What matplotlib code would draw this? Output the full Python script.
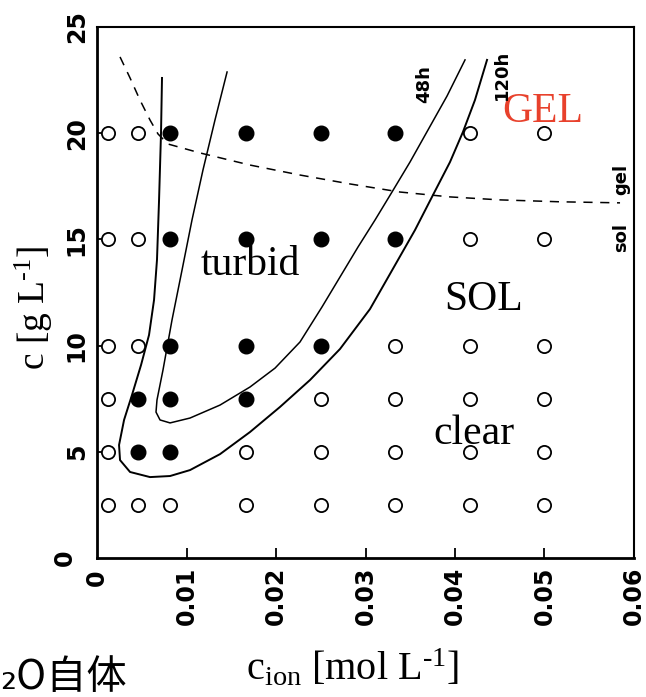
import numpy as np
import matplotlib
matplotlib.use('Agg')
import matplotlib.pyplot as plt

plt.rcParams['mathtext.fontset'] = 'custom'
plt.rcParams['mathtext.rm'] = 'Liberation Serif'
plt.rcParams['mathtext.it'] = 'Liberation Serif:italic'

# sample grid: ion concentration (mol/L) and polymer concentration (g/L)
c_ion = [0.0012, 0.0046, 0.0082, 0.0167, 0.025, 0.0333, 0.0417, 0.05]
c_poly = [20, 15, 10, 7.5, 5, 2.5]

# 1 = turbid (filled), 0 = clear (open), one row per c_poly value
turbid = [
    [0, 0, 1, 1, 1, 1, 0, 0],
    [0, 0, 1, 1, 1, 1, 0, 0],
    [0, 0, 1, 1, 1, 0, 0, 0],
    [0, 1, 1, 1, 0, 0, 0, 0],
    [0, 1, 1, 0, 0, 0, 0, 0],
    [0, 0, 0, 0, 0, 0, 0, 0],
]

# turbidity boundary after 120 h
b120_x = [0.00726, 0.00715, 0.00693, 0.00670, 0.00637, 0.00581, 0.00492, 0.00391,
          0.00302, 0.00246, 0.00257, 0.00369, 0.00592, 0.00816, 0.01039, 0.01374,
          0.01709, 0.02044, 0.02380, 0.02715, 0.03050, 0.03330, 0.03553, 0.03754,
          0.03944, 0.04089, 0.04223, 0.04358]
b120_y = [22.60, 20.01, 16.85, 14.04, 12.15, 10.50, 9.09, 7.68,
          6.50, 5.32, 4.61, 4.05, 3.81, 3.86, 4.14, 4.89,
          5.93, 7.11, 8.38, 9.84, 11.72, 13.79, 15.44, 17.09,
          18.64, 20.06, 21.56, 23.45]

# turbidity boundary after 48 h
b48_x = [0.01453, 0.01318, 0.01184, 0.01061, 0.00950, 0.00838, 0.00737, 0.00670,
         0.00659, 0.00704, 0.00816, 0.01039, 0.01374, 0.01709, 0.01989, 0.02268,
         0.02514, 0.02715, 0.02916, 0.03106, 0.03296, 0.03497, 0.03698, 0.03911,
         0.04112]
b48_y = [22.88, 20.62, 18.27, 15.91, 13.56, 11.21, 8.85, 7.44,
         6.87, 6.50, 6.36, 6.59, 7.20, 8.05, 8.94, 10.17,
         11.82, 13.23, 14.64, 15.91, 17.23, 18.64, 20.15, 21.75,
         23.45]

# sol / gel boundary
gel_x = [0.00257, 0.00369, 0.00480, 0.00592, 0.00682, 0.00793, 0.01151, 0.01709,
         0.02268, 0.02827, 0.03385, 0.03944, 0.04503, 0.05173, 0.05844]
gel_y = [23.59, 22.60, 21.56, 20.62, 19.96, 19.49, 19.07, 18.50,
         18.03, 17.61, 17.23, 17.00, 16.86, 16.77, 16.72]

xticks = [0.01, 0.02, 0.03, 0.04, 0.05, 0.06]
xtick_labels = ['0.01', '0.02', '0.03', '0.04', '0.05', '0.06']
yticks = [5, 10, 15, 20, 25]
ytick_labels = ['5', '10', '15', '20', '25']

serif = 'Liberation Serif'

fig = plt.figure(figsize=(6.46, 6.97), dpi=100)
ax = fig.add_axes([0.1502, 0.1994, 0.8312, 0.7619])
ax.set_xlim(0, 0.06)
ax.set_ylim(0, 25)

for i, cp in enumerate(c_poly):
    for j, ci in enumerate(c_ion):
        if turbid[i][j]:
            ax.plot(ci, cp, 'o', ms=10.5, color='black', zorder=3)
        else:
            ax.plot(ci, cp, 'o', ms=9.5, mfc='white', mec='black', mew=1.3, zorder=3)

ax.plot(b120_x, b120_y, color='black', lw=1.4)
ax.plot(b48_x, b48_y, color='black', lw=1.1)
ax.plot(gel_x, gel_y, color='black', lw=1.1, ls=(0, (6, 5)))

# hand-written labels
ax.text(0.0171, 13.8, 'turbid', fontsize=30, family=serif, ha='center', va='center')
ax.text(0.0432, 12.15, 'SOL', fontsize=30, family=serif, ha='center', va='center')
ax.text(0.0421, 5.85, 'clear', fontsize=30, family=serif, ha='center', va='center')
ax.text(0.0498, 21.0, 'GEL', fontsize=30, family=serif, ha='center', va='center',
        color='#e8412c')
tag = dict(fontsize=13, fontweight='bold', rotation=90, ha='center', va='center')
ax.text(0.0366, 22.3, '48h', **tag)
ax.text(0.0452, 22.75, '120h', **tag)
ax.text(0.0586, 17.8, 'gel', **tag)
ax.text(0.0586, 15.1, 'sol', **tag)

ax.set_xticks(xticks)
ax.set_xticklabels(xtick_labels, rotation=90, fontsize=17, fontweight='bold')
ax.set_yticks(yticks)
ax.set_yticklabels(ytick_labels, rotation=90, fontsize=17, fontweight='bold', va='center')
ax.tick_params(direction='in', length=7, width=1.3, pad=6)
ax.tick_params(axis='y', length=5)

# origin zeros for both axes
ax.text(-0.0022, 0.0, '0', fontsize=17, fontweight='bold', rotation=90,
        ha='right', va='center')
ax.text(0.0, -0.55, '0', fontsize=17, fontweight='bold', rotation=90,
        ha='center', va='top')

for side in ['left', 'bottom']:
    ax.spines[side].set_linewidth(2.0)
for side in ['top', 'right']:
    ax.spines[side].set_linewidth(1.5)

fig.text(0.052, 0.558, r'c [g L$^{\text{-1}}$]', fontsize=27, family=serif,
         rotation=90, ha='center', va='center')
fig.text(0.545, 0.04, r'c$_{\text{ion}}$ [mol L$^{\text{-1}}$]',
         fontsize=29, family=serif, ha='center', va='center')
fig.text(0.0, 0.012, '₂O自体', fontsize=29,
         family=['Noto Sans CJK JP', 'DejaVu Sans'], ha='left', va='baseline')

plt.savefig('out.png', dpi=100)
